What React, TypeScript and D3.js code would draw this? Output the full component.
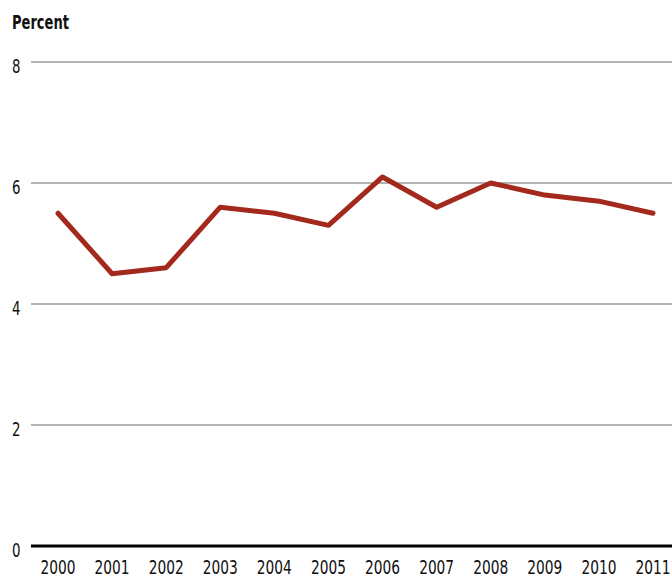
import React from "react";
import * as d3 from "d3";

const years: string[] = ["2000","2001","2002","2003","2004","2005","2006","2007","2008","2009","2010","2011"];
const values: number[] = [5.5, 4.5, 4.6, 5.6, 5.5, 5.3, 6.1, 5.6, 6.0, 5.8, 5.7, 5.5];
const yTicks: number[] = [0, 2, 4, 6, 8];
const yTitle = "Percent";

const W = 672;
const H = 577;
const FONT = "'DejaVu Sans Condensed', 'Liberation Sans Narrow', 'Liberation Sans', sans-serif";

export default function App() {
  const x = d3.scalePoint<string>().domain(years).range([58, 653]);
  const y = d3.scaleLinear().domain([0, 8]).range([546, 62]);
  const line = d3
    .line<number>()
    .x((_, i) => x(years[i]) as number)
    .y((d) => y(d));

  return (
    <svg
      width={W}
      height={H}
      style={{ position: "absolute", left: 0, top: 0, background: "#fff" }}
      fontFamily={FONT}
    >
      <text
        x={12}
        y={29}
        fontSize={19}
        fontWeight="bold"
        fill="#111"
        textLength={57}
        lengthAdjust="spacingAndGlyphs"
      >
        {yTitle}
      </text>
      {yTicks.map((t) => (
        <g key={t}>
          {t !== 0 && (
            <line x1={31} x2={W} y1={y(t)} y2={y(t)} stroke="#9a9a9a" strokeWidth={1.5} />
          )}
          <text
            x={12}
            y={y(t) + 11}
            fontSize={19}
            fill="#111"
            textLength={8.5}
            lengthAdjust="spacingAndGlyphs"
          >
            {t}
          </text>
        </g>
      ))}
      <path
        d={line(values) || ""}
        fill="none"
        stroke="#a3291d"
        strokeWidth={5}
        strokeLinejoin="round"
        strokeLinecap="round"
      />
      <line x1={31} x2={W} y1={y(0)} y2={y(0)} stroke="#000" strokeWidth={3} />
      {years.map((yr) => (
        <text
          key={yr}
          x={(x(yr) as number) - 17.5}
          y={574}
          fontSize={19}
          fill="#111"
          textLength={35}
          lengthAdjust="spacingAndGlyphs"
        >
          {yr}
        </text>
      ))}
    </svg>
  );
}
